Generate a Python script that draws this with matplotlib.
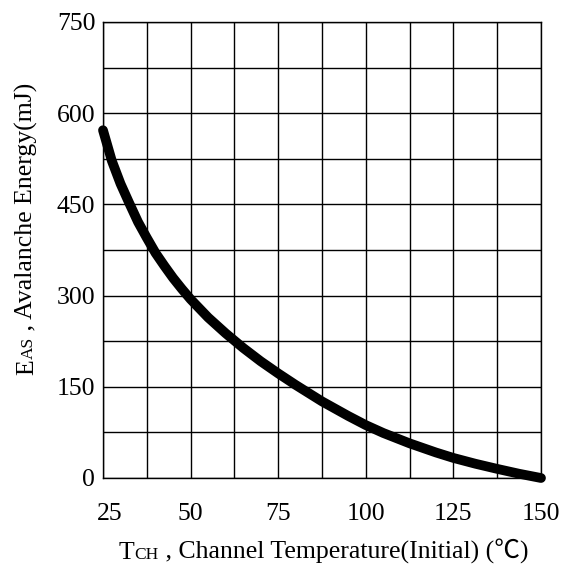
import matplotlib
matplotlib.use("Agg")
import matplotlib.pyplot as plt
from matplotlib.transforms import IdentityTransform, ScaledTranslation
import numpy as np

# Data
temp_c = [25, 27.5, 30, 32.5, 35, 37.5, 40, 42.5, 45, 47.5, 50, 55, 60, 62.5, 65, 70,
          75, 80, 87.5, 95, 100, 105, 112.5, 120, 125, 131.25, 137.5, 143.75, 150]
energy_mj = [572, 522, 484, 452, 421, 395, 370, 349, 329, 311, 294, 264, 238, 226, 214, 192,
             172, 153, 126, 102, 87, 74, 57, 42, 33, 23.5, 15, 7, 0]

x_ticks = [25, 50, 75, 100, 125, 150]
y_ticks = [0, 150, 300, 450, 600, 750]

W, H, DPI = 566, 569, 100
SERIF = ['Liberation Serif', 'Noto Sans CJK SC', 'DejaVu Sans']
FS = 18.5

fig = plt.figure(figsize=(W / DPI, H / DPI), dpi=DPI)
L, R, T, B = 103, 541, 22, 478
ax = fig.add_axes([L / W, 1 - B / H, (R - L) / W, (B - T) / H])

ax.set_xlim(25, 150)
ax.set_ylim(0, 750)
ax.grid(True, color='black', linewidth=1.0)
ax.set_axisbelow(True)

xgrid = np.arange(25, 150.01, 12.5)
ygrid = np.arange(0, 750.01, 75)
ax.set_xticks(xgrid)
ax.set_xticklabels([str(int(v)) if v in x_ticks else '' for v in xgrid])
ax.set_yticks(ygrid)
ax.set_yticklabels([str(int(v)) if int(v) in y_ticks else '' for v in ygrid])
ax.tick_params(length=0, labelsize=FS)
ax.tick_params(axis='x', pad=18)
ax.tick_params(axis='y', pad=5.5)
for lab in ax.get_xticklabels() + ax.get_yticklabels():
    lab.set_family(SERIF)
# the first x label sits a little to the right in the reference
first = ax.get_xticklabels()[0]
first.set_transform(first.get_transform() + ScaledTranslation(7 / DPI, 0, fig.dpi_scale_trans))

for s in ax.spines.values():
    s.set_color('black')
    s.set_linewidth(1.0)

ax.plot(temp_c, energy_mj, color='black', linewidth=7.0, solid_capstyle='round',
        solid_joinstyle='round', clip_on=False, zorder=3)

fig.canvas.draw()
rend = fig.canvas.get_renderer()


def chain(parts, cx, cy, rotation=0):
    """parts: list of (text, size); centered at cx along the text, baseline at cy (pixels)."""
    texts = []
    widths = []
    for s, size in parts:
        t = fig.text(0, 0, s, fontsize=size, family=SERIF, transform=IdentityTransform(),
                     ha='left', va='baseline', rotation=0, rotation_mode='anchor')
        widths.append(t.get_window_extent(rend).width)
        texts.append(t)
    total = sum(widths)
    pos = -total / 2
    for t, w in zip(texts, widths):
        if rotation == 0:
            t.set_position((cx + pos, cy))
        else:
            t.set_rotation(90)
            t.set_position((cy, cx + pos))
        pos += w
    return texts


# x label
chain([("T", FS), ("CH", 12.5), (" , Channel Temperature(Initial) (\u2103)", FS)],
      cx=323.5, cy=H - 559)
# y label (rotated)
chain([("E", FS), ("AS", 12.5), (" , Avalanche Energy(mJ)", FS)],
      cx=H - 229, cy=33, rotation=90)

fig.savefig("out.png", dpi=DPI)
